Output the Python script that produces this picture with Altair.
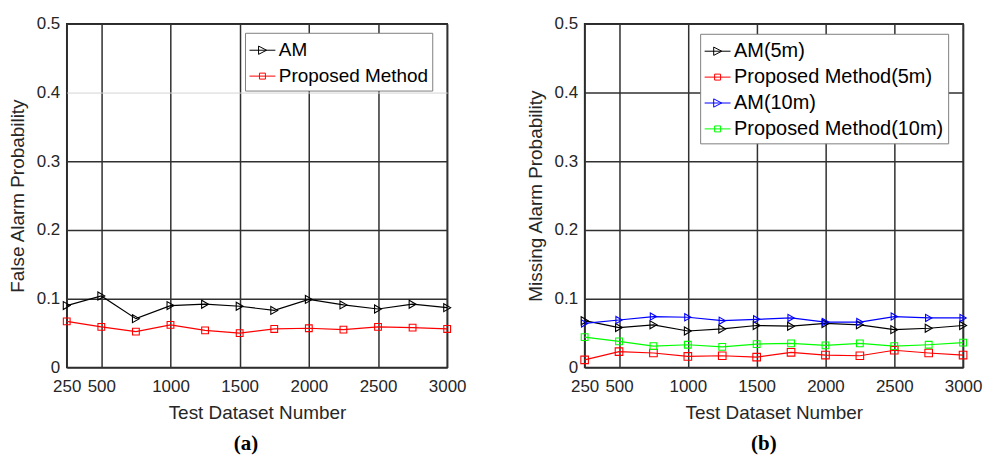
import altair as alt
import pandas as pd

# Number of test samples on the x axis
n_tests = [250, 500, 750, 1000, 1250, 1500, 1750, 2000, 2250, 2500, 2750, 3000]
x_ticks = [250, 500, 1000, 1500, 2000, 2500, 3000]
y_ticks = [0, 0.1, 0.2, 0.3, 0.4, 0.5]

# (a) false alarm probability
fa_am = [0.090, 0.104, 0.071, 0.090, 0.092, 0.089, 0.083, 0.099, 0.091, 0.085, 0.092, 0.087]
fa_proposed = [0.067, 0.059, 0.052, 0.062, 0.054, 0.050, 0.056, 0.057, 0.055, 0.059, 0.058, 0.056]

# (b) missing alarm probability
ma_am_5m = [0.068, 0.058, 0.062, 0.053, 0.056, 0.061, 0.060, 0.064, 0.062, 0.055, 0.057, 0.061]
ma_proposed_5m = [0.011, 0.023, 0.021, 0.016, 0.017, 0.015, 0.022, 0.018, 0.017, 0.025, 0.021, 0.018]
ma_am_10m = [0.064, 0.069, 0.074, 0.073, 0.068, 0.070, 0.072, 0.066, 0.066, 0.074, 0.072, 0.072]
ma_proposed_10m = [0.044, 0.038, 0.031, 0.033, 0.030, 0.034, 0.035, 0.032, 0.035, 0.031, 0.033, 0.036]

FONT = "Liberation Sans"
TEXT = "#262626"
GRID = "#303030"

TRI = "triangle-right"
SQR = "square"
# legend keys: a short line segment with the marker drawn on it
TRI_KEY = "M-1,0H1M-0.3,-0.32L0.32,0L-0.3,0.32Z"
SQR_KEY = "M-1,0H1M-0.23,-0.23H0.23V0.23H-0.23Z"
TRI_SIZE = 64
SQR_SIZE = 46


def long_frame(series):
    rows = []
    for name, vals in series:
        for n, v in zip(n_tests, vals):
            rows.append({"n": n, "p": v, "series": name, "key": name})
    return pd.DataFrame(rows)


def panel(series, colors, markers, keys, sizes, ytitle, tag, lx, ly,
          legend_font, width, grid_color, grid_width, tag_dx):
    df = long_frame(series)
    names = [s[0] for s in series]

    x = alt.X(
        "n:Q",
        scale=alt.Scale(domain=[250, 3000], nice=False),
        axis=alt.Axis(values=x_ticks, format="d", title="Test Dataset Number",
                      labelOverlap=False, labelFlush=False, labelPadding=11, titlePadding=9,
                      grid=True, gridColor=GRID, gridWidth=1.5),
    )
    y = alt.Y(
        "p:Q",
        scale=alt.Scale(domain=[0, 0.5], nice=False),
        axis=alt.Axis(values=y_ticks, format="~g", title=ytitle, labelPadding=7,
                      titlePadding=9, grid=True, gridColor=grid_color, gridWidth=grid_width),
    )

    base = alt.Chart(df).encode(
        x=x,
        y=y,
        color=alt.Color("series:N", scale=alt.Scale(domain=names, range=colors), legend=None),
    )
    lines = base.mark_line(strokeWidth=1.2)
    points = base.mark_point(filled=False, opacity=1, strokeWidth=1.1).encode(
        shape=alt.Shape("series:N", scale=alt.Scale(domain=names, range=markers), legend=None),
        size=alt.Size("series:N", scale=alt.Scale(domain=names, range=sizes), legend=None),
    )

    legend = alt.Legend(
        orient="none",
        legendX=lx,
        legendY=ly,
        title=None,
        fillColor="white",
        strokeColor="#7f7f7f",
        padding=4,
        labelFont=FONT,
        labelFontSize=legend_font,
        labelColor="black",
        labelOffset=3,
        labelLimit=0,
        symbolSize=676,
        symbolStrokeWidth=1,
        rowPadding=2,
    )
    key_layer = (
        alt.Chart(df)
        .transform_filter("false")
        .mark_point(filled=False, opacity=1, strokeWidth=1)
        .encode(
            x=x,
            y=y,
            color=alt.Color("key:N", scale=alt.Scale(domain=names, range=colors), legend=legend),
            shape=alt.Shape("key:N", scale=alt.Scale(domain=names, range=keys), legend=legend),
        )
    )

    return (
        alt.layer(lines, points, key_layer)
        .resolve_scale(color="independent", shape="independent", size="independent")
        .properties(
            width=width,
            height=345,
            title=alt.TitleParams(
                tag,
                orient="bottom",
                frame="group",
                font="Liberation Serif",
                fontSize=21,
                fontWeight="bold",
                color="black",
                offset=11,
                dx=tag_dx,
            ),
        )
    )


left = panel(
    [("AM", fa_am), ("Proposed Method", fa_proposed)],
    ["#000000", "#ff0000"],
    [TRI, SQR],
    [TRI_KEY, SQR_KEY],
    [TRI_SIZE, SQR_SIZE],
    "False Alarm Probability",
    "(a)",
    179,
    9,
    19,
    382,
    {"condition": {"test": "abs(datum.value - 0.4) < 1e-6", "value": "#d4d4d4"}, "value": GRID},
    {"condition": {"test": "abs(datum.value - 0.4) < 1e-6", "value": 1}, "value": 1.5},
    -11,
)

right = panel(
    [
        ("AM(5m)", ma_am_5m),
        ("Proposed Method(5m)", ma_proposed_5m),
        ("AM(10m)", ma_am_10m),
        ("Proposed Method(10m)", ma_proposed_10m),
    ],
    ["#000000", "#ff0000", "#0000ff", "#00ff00"],
    [TRI, SQR, TRI, SQR],
    [TRI_KEY, SQR_KEY, TRI_KEY, SQR_KEY],
    [TRI_SIZE, SQR_SIZE, TRI_SIZE, SQR_SIZE],
    "Missing Alarm Probability",
    "(b)",
    116,
    10,
    20,
    380,
    GRID,
    1.5,
    -10,
)

chart = (
    alt.hconcat(left, right, spacing=58)
    .properties(padding={"left": 7, "top": 13, "right": 2, "bottom": 0}, background="white")
    .configure_view(stroke=TEXT, strokeWidth=1.5)
    .configure_axis(
        labelFont=FONT,
        labelFontSize=17,
        labelColor=TEXT,
        titleFont=FONT,
        titleFontSize=19,
        titleFontWeight="normal",
        titleColor=TEXT,
        ticks=False,
        tickSize=0,
        domain=False,
        grid=True,
        gridOpacity=1,
    )
)

chart.save("out.html", embed_options={"renderer": "svg", "actions": False})
